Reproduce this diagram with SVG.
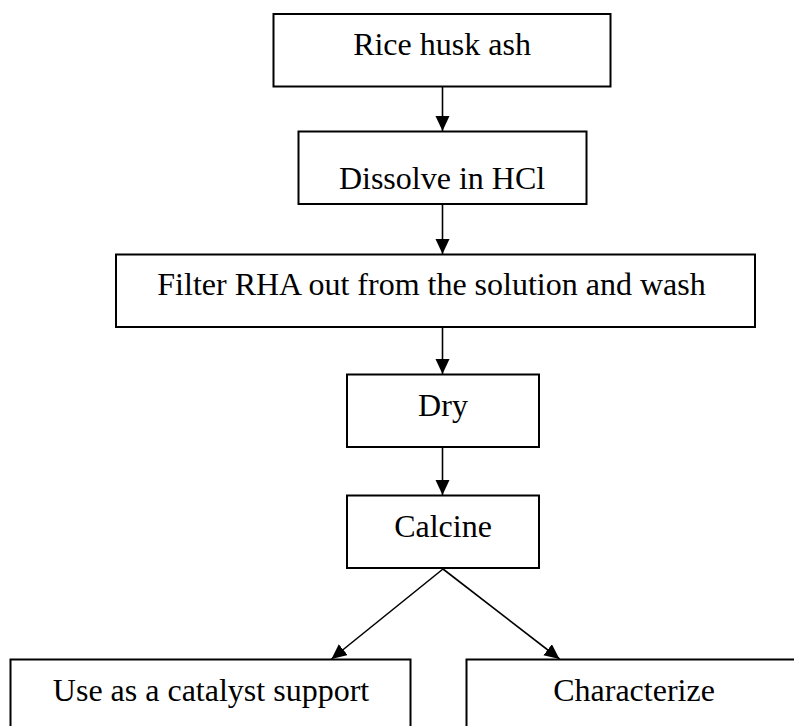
<svg xmlns="http://www.w3.org/2000/svg" width="794" height="726" viewBox="0 0 794 726">
<style>
.box{fill:#fff;stroke:#000;stroke-width:2}
.lbl{font-family:"Liberation Serif","Times New Roman",serif;font-size:32px;fill:#000;text-anchor:middle}
.con{stroke:#000;stroke-width:1.6;fill:none}
</style>
<defs>
<marker id="ah" markerUnits="userSpaceOnUse" markerWidth="16" markerHeight="15" refX="15" refY="7" orient="auto">
<path d="M0,0 L15,7 L0,14 Z" fill="#000"/>
</marker>
</defs>
<rect width="794" height="726" fill="#fff"/>
<g id="connectors">
<line class="con" x1="442.5" y1="86.5" x2="442.5" y2="131" marker-end="url(#ah)"/>
<line class="con" x1="442.5" y1="204" x2="442.5" y2="254" marker-end="url(#ah)"/>
<line class="con" x1="442.5" y1="327" x2="442.5" y2="374" marker-end="url(#ah)"/>
<line class="con" x1="442.5" y1="447" x2="442.5" y2="495" marker-end="url(#ah)"/>
<line class="con" x1="443" y1="569" x2="331.5" y2="659" marker-end="url(#ah)"/>
<line class="con" x1="443" y1="569" x2="559.5" y2="659" marker-end="url(#ah)"/>
</g>
<g id="n1"><rect class="box" x="273.5" y="14" width="337" height="72.5"/><text class="lbl" x="442" y="54.5">Rice husk ash</text></g>
<g id="n2"><rect class="box" x="298.5" y="131.5" width="288" height="72.5"/><text class="lbl" x="442" y="188.5">Dissolve in HCl</text></g>
<g id="n3"><rect class="box" x="116" y="254.5" width="639" height="72.5"/><text class="lbl" x="431.5" y="294.5">Filter RHA out from the solution and wash</text></g>
<g id="n4"><rect class="box" x="347" y="374.5" width="192" height="72.5"/><text class="lbl" x="443" y="415.5">Dry</text></g>
<g id="n5"><rect class="box" x="347" y="495.5" width="192" height="72.5"/><text class="lbl" x="443" y="537">Calcine</text></g>
<g id="n6"><rect class="box" x="10.5" y="659.5" width="400" height="80"/><text class="lbl" x="211" y="700.5">Use as a catalyst support</text></g>
<g id="n7"><rect class="box" x="466.5" y="659.5" width="335" height="80"/><text class="lbl" x="634" y="700.5">Characterize</text></g>
</svg>
